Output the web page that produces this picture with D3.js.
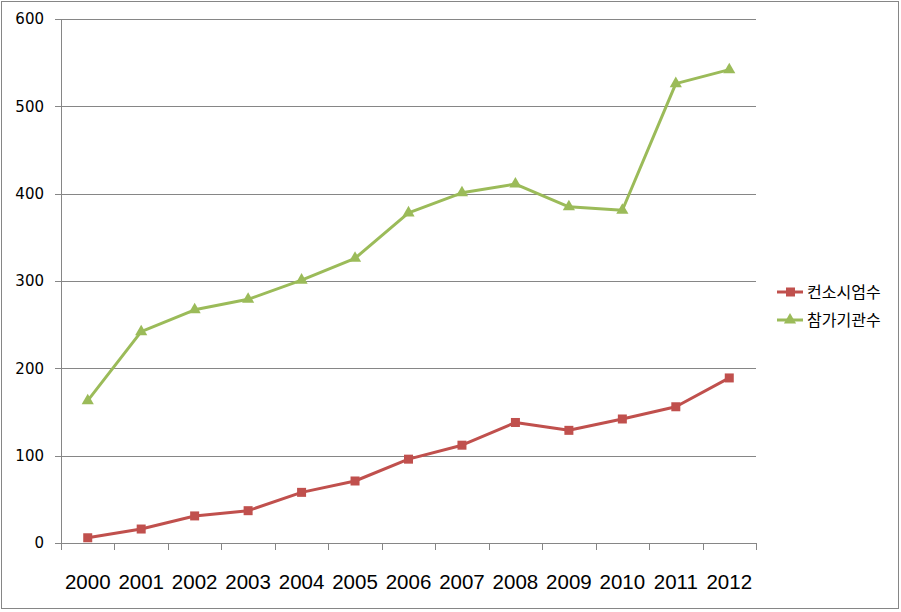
<!DOCTYPE html>
<html><head><meta charset="utf-8">
<script src="https://cdn.jsdelivr.net/npm/d3@7"></script>
<style>body{margin:0;background:#fff}svg{display:block}</style>
</head><body>
<svg id="c" width="901" height="612"></svg>
<script>
const years = ["2000","2001","2002","2003","2004","2005","2006","2007","2008","2009","2010","2011","2012"];
const consortium = [6,16,31,37,58,71,96,112,138,129,142,156,189];
const institutions = [163,242,267,279,301,326,378,401,411,385,381,526,542];
const seriesNames = ["컨소시엄수","참가기관수"];
const yTicks = [0,100,200,300,400,500,600];

const svg = d3.select("#c");
const red = "#C0504D", green = "#9BBB59", grid = "#868686";
svg.append("rect").attr("x",1.5).attr("y",1.5).attr("width",897).attr("height",607)
  .attr("fill","#fff").attr("stroke",grid).attr("stroke-width",1);

const x = d3.scaleBand().domain(years).range([61,756]).padding(0);
const y = d3.scaleLinear().domain([0,600]).range([543,19]);

// gridlines
svg.append("g").selectAll("line").data(yTicks).join("line")
  .attr("x1",55).attr("x2",756)
  .attr("y1",d=>Math.round(y(d))+0.5).attr("y2",d=>Math.round(y(d))+0.5)
  .attr("stroke",grid).attr("stroke-width",1);
// y axis line
svg.append("line").attr("x1",61.5).attr("x2",61.5).attr("y1",y(600)).attr("y2",y(0)+0.5)
  .attr("stroke",grid);
// x ticks
const xt = years.map(d=>x(d)).concat([x.range()[1]]);
svg.append("g").selectAll("line").data(xt).join("line")
  .attr("x1",d=>Math.round(d)+0.5).attr("x2",d=>Math.round(d)+0.5)
  .attr("y1",y(0)).attr("y2",y(0)+7).attr("stroke",grid);
// y labels
svg.append("g").selectAll("text").data(yTicks).join("text")
  .attr("x",44).attr("y",d=>y(d)).attr("dy","0.36em").attr("text-anchor","end")
  .attr("font-family","DejaVu Sans, sans-serif").attr("font-size",15).attr("fill","#000")
  .text(d=>d);
// x labels
svg.append("g").selectAll("text").data(years).join("text")
  .attr("x",d=>x(d)+x.bandwidth()/2).attr("y",589).attr("text-anchor","middle")
  .attr("font-family","Liberation Sans, Arial, sans-serif").attr("font-size",20.5).attr("fill","#000")
  .text(d=>d);

const cx = d=>x(d)+x.bandwidth()/2;
const line = d3.line().x((d,i)=>cx(years[i])).y(d=>y(d));
const tri = d3.symbol().type(d3.symbolTriangle).size(64);

function drawSeries(vals,color,kind){
  svg.append("path").datum(vals).attr("d",line).attr("fill","none")
    .attr("stroke",color).attr("stroke-width",3).attr("stroke-linejoin","round");
  const g = svg.append("g");
  vals.forEach((v,i)=>{
    if(kind==="square"){
      g.append("rect").attr("x",cx(years[i])-4.5).attr("y",y(v)-4.5).attr("width",9).attr("height",9).attr("fill",color);
    } else {
      g.append("path").attr("d",tri).attr("transform",`translate(${cx(years[i])},${y(v)})`).attr("fill",color);
    }
  });
}
drawSeries(institutions,green,"tri");
drawSeries(consortium,red,"square");

// legend
const leg = [{name:seriesNames[0],color:red,kind:"square",yy:292},{name:seriesNames[1],color:green,kind:"tri",yy:320}];
leg.forEach(l=>{
  svg.append("line").attr("x1",777).attr("x2",803).attr("y1",l.yy).attr("y2",l.yy).attr("stroke",l.color).attr("stroke-width",3);
  if(l.kind==="square") svg.append("rect").attr("x",786).attr("y",l.yy-4.5).attr("width",9).attr("height",9).attr("fill",l.color);
  else svg.append("path").attr("d",tri).attr("transform",`translate(790,${l.yy})`).attr("fill",l.color);
  svg.append("text").attr("x",807).attr("y",l.yy).attr("dy","0.36em")
    .attr("font-family","Noto Sans CJK KR, sans-serif").attr("font-size",16).attr("fill","#000").text(l.name);
});
</script>
</body></html>
